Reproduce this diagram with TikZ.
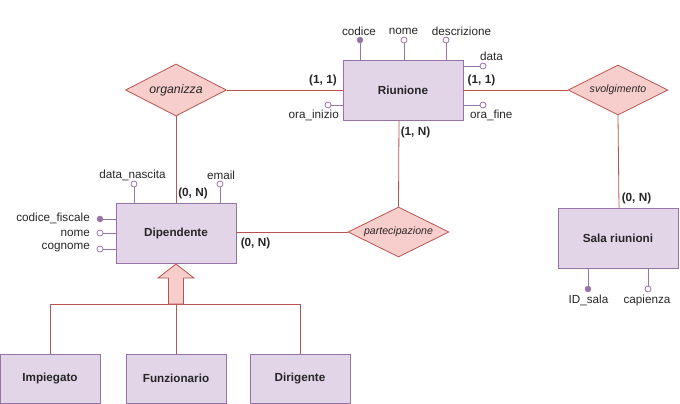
\documentclass[tikz,border=0pt]{standalone}
\usepackage{fontspec}
\setmainfont{Liberation Sans}
\usetikzlibrary{shapes.geometric}
\definecolor{entfill}{HTML}{E1D5E7}
\definecolor{entdraw}{HTML}{9673A6}
\definecolor{relfill}{HTML}{F8CECC}
\definecolor{reldraw}{HTML}{B85450}
\tikzset{
  entity/.style={draw=entdraw, fill=entfill, line width=0.9pt, minimum width=120pt, minimum height=60pt, inner sep=0pt, font=\fontsize{11.7}{13}\selectfont\bfseries, text=black!85},
  subent/.style={entity, minimum width=100pt, minimum height=49pt},
  rel/.style={draw=reldraw, fill=relfill, line width=0.8pt, diamond, aspect=2, inner sep=0pt, text=black!85},
  link/.style={draw=reldraw, line width=0.8pt},
  attrline/.style={draw=entdraw, line width=0.9pt},
  keyattr/.style={circle, fill=entdraw, draw=entdraw, inner sep=0pt, minimum size=6pt},
  attr/.style={circle, fill=white, draw=entdraw, line width=0.8pt, inner sep=0pt, minimum size=6pt},
  lbl/.style={font=\fontsize{11.7}{13}\selectfont, inner sep=0pt, text=black!85},
  card/.style={font=\fontsize{11.8}{13}\selectfont\bfseries, inner sep=0pt, text=black!85}
}
\begin{document}
\begin{tikzpicture}[x=1pt,y=-1pt]
\useasboundingbox (0,0) rectangle (680,404);
% entities
\node[entity] (riu) at (403,90) {Riunione};
\node[entity] (dip) at (176,233) {Dipendente};
\node[entity] (sala) at (618,238) {Sala riunioni};
\node[subent] (imp) at (50,378.5) {Impiegato};
\node[subent] (fun) at (176,378.5) {Funzionario};
\node[subent] (dir) at (300,378.5) {Dirigente};
% relationships
\node[rel, minimum width=101pt, minimum height=52pt] (org) at (176,90) {\fontsize{12.3}{14}\selectfont\itshape organizza};
\node[rel, minimum width=101pt, minimum height=50pt] (par) at (398.5,232) {\fontsize{10.6}{12}\selectfont\itshape partecipazione};
\node[rel, minimum width=100pt, minimum height=50pt] (svo) at (618,90) {\fontsize{10.6}{12}\selectfont\itshape svolgimento};
% connectors
\draw[link] (org.east) -- (riu.west |- org.east);
\draw[link] (org.south) -- (dip.north -| org.south);
\draw[link] (dip.east |- par.west) -- (par.west);
\coordinate (riuB) at (399,120);
\draw[link] (par.north) -- (riuB);
\draw[link] (riu.east |- svo.west) -- (svo.west);
\coordinate (salaT) at (619,208);
\draw[link] (svo.south) -- (salaT);
% cardinalities
\node[card] at (323,80) {(1, 1)};
\node[card] at (481.5,80) {(1, 1)};
\node[card] at (415.5,132) {(1, N)};
\node[card] at (193,193) {(0, N)};
\node[card] at (255.5,243) {(0, N)};
\node[card] at (636.5,198) {(0, N)};
% Riunione attributes
\node[keyattr] (a1) at (360,40) {};
\node[attr] (a2) at (404,40) {};
\node[attr] (a3) at (446,40) {};
\draw[attrline] (a1) -- (360,60);
\draw[attrline] (a2) -- (404,60);
\draw[attrline] (a3) -- (446,60);
\node[lbl] at (359,31) {codice};
\node[lbl] at (403.5,31) {nome};
\node[lbl] at (461.5,31) {descrizione};
\node[attr] (a4) at (483,66) {};
\node[attr] (a5) at (483,105) {};
\node[attr] (a6) at (328,105) {};
\draw[attrline] (463,66) -- (a4);
\draw[attrline] (463,105) -- (a5);
\draw[attrline] (343,105) -- (a6);
\node[lbl, anchor=west] at (480,56) {data};
\node[lbl, anchor=west] at (470,115) {ora\_fine};
\node[lbl, anchor=east] at (339,115) {ora\_inizio};
% Dipendente attributes
\node[attr] (b1) at (134,184) {};
\node[attr] (b2) at (220,184) {};
\draw[attrline] (b1) -- (134,203);
\draw[attrline] (b2) -- (220,203);
\node[lbl] at (132.5,175) {data\_nascita};
\node[lbl] at (221,175) {email};
\node[keyattr] (b3) at (100,219) {};
\node[attr] (b4) at (100,233) {};
\node[attr] (b5) at (100,249) {};
\draw[attrline] (b3) -- (116,219);
\draw[attrline] (b4) -- (116,233);
\draw[attrline] (b5) -- (116,249);
\node[lbl, anchor=east] at (90,218) {codice\_fiscale};
\node[lbl, anchor=east] at (90,233) {nome};
\node[lbl, anchor=east] at (90,248) {cognome};
% Sala attributes
\node[keyattr] (c1) at (588,289) {};
\node[attr] (c2) at (648,289) {};
\draw[attrline] (c1) -- (588,268);
\draw[attrline] (c2) -- (648,268);
\node[lbl] at (588.5,300) {ID\_sala};
\node[lbl] at (647,300) {capienza};
% generalization
\coordinate (gl) at (50,304);
\coordinate (gr) at (300,304);
\coordinate (gm) at (176,304);
\draw[link] (imp.north) -- (gl) -- (gr) -- (dir.north);
\draw[link] (fun.north) -- (gm);
\draw[draw=reldraw, fill=relfill, line width=0.8pt]
  (168.5,304) -- (168.5,278) -- (158,278) -- (176,264) -- (194,278) -- (183.5,278) -- (183.5,304) -- cycle;
\end{tikzpicture}
\end{document}
